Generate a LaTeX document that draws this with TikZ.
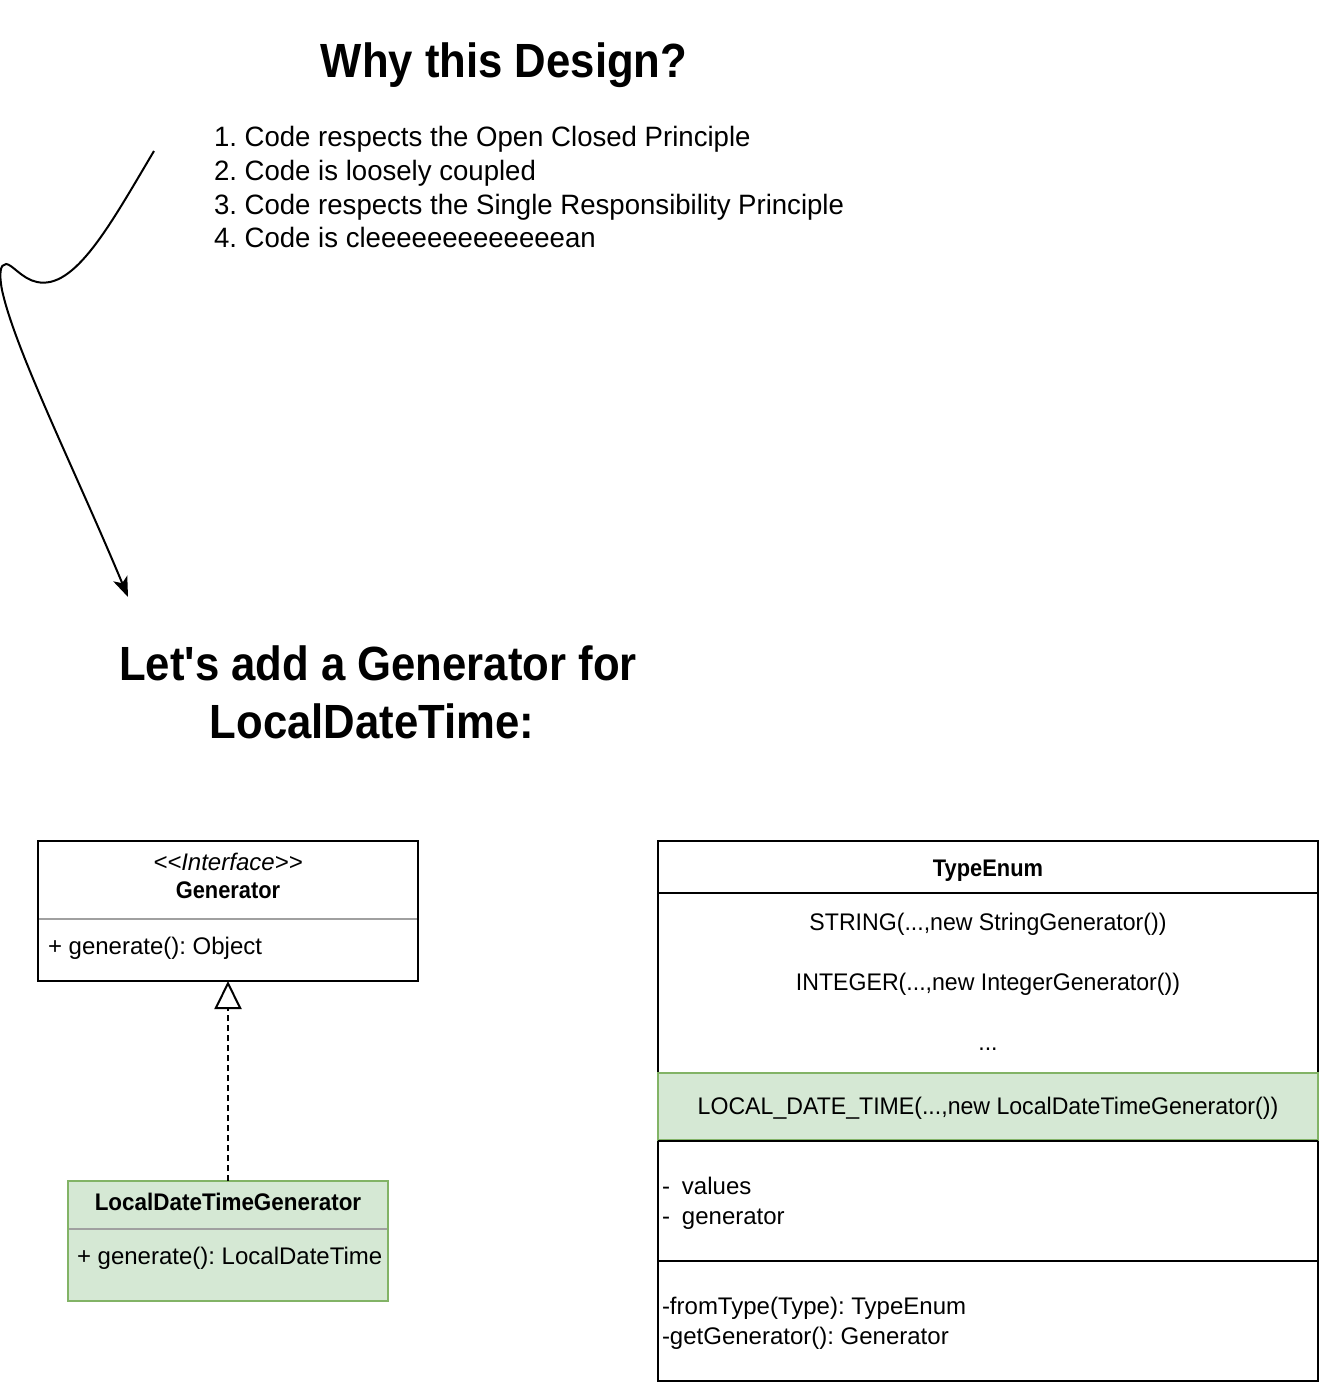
\documentclass[tikz,border=0pt]{standalone}
\usepackage{fontspec}
\setmainfont{Liberation Sans}[Ligatures=TeXOff]
\newfontfamily\cb{Liberation Sans}[FakeStretch=0.91,Ligatures=TeXOff]
\newfontfamily\cbb{Liberation Sans}[FakeStretch=0.935,Ligatures=TeXOff]
\newfontfamily\cnr{Liberation Sans}[FakeStretch=0.963,Ligatures=TeXOff]
\newfontfamily\clist{Liberation Sans}[FakeStretch=0.985,Ligatures=TeXOff]
\usetikzlibrary{arrows.meta}
\definecolor{gfill}{HTML}{D5E8D4}
\definecolor{gstroke}{HTML}{82B366}
\definecolor{divgray}{HTML}{A0A0A0}
\frenchspacing
\begin{document}
\frenchspacing
\begin{tikzpicture}[x=1pt,y=-1pt,line width=2pt,
  box/.style={draw,line width=2pt,inner sep=0pt,outer sep=0pt,anchor=north west},
  txt/.style={inner sep=0pt,anchor=base,font=\fontsize{24}{28.8}\selectfont},
  txtl/.style={txt,anchor=base west},
  enumtxt/.style={inner sep=0pt,anchor=base,font=\cnr\fontsize{24}{28.8}\selectfont},
  hdr/.style={inner sep=0pt,anchor=base,font=\cb\bfseries\fontsize{24}{28.8}\selectfont},
  bigtitle/.style={inner sep=0pt,anchor=base,font=\cb\bfseries\fontsize{48}{57.6}\selectfont},
  listline/.style={inner sep=0pt,anchor=base west,font=\clist\fontsize{28}{33.6}\selectfont}]
\useasboundingbox (0,0) rectangle (1320,1382);

% titles and list
\node[bigtitle] (t1) at (504,77) {Why this Design?};
\node[listline] (l1) at (213,146) {1. Code respects the Open Closed Principle};
\node[listline] (l2) at (213,180) {2. Code is loosely coupled};
\node[listline] (l3) at (213,214) {3. Code respects the Single Responsibility Principle};
\node[listline] (l4) at (213,247) {4. Code is cleeeeeeeeeeeeean};
\node[bigtitle] (t2a) at (378,680) {Let's add a Generator for};
\node[bigtitle] (t2b) at (372,738) {LocalDateTime:};

% curved arrow
\coordinate (cs) at (154,151);
\coordinate (ce) at (128,597);
\draw[-{Stealth[length=20pt,width=15pt,inset=5pt]}] (cs)
  .. controls (110,225) and (75,290) .. (37,282)
  .. controls (22,279) and (12,264) .. (6,264)
  .. controls (0,264) and (-1,274) .. (2,290)
  .. controls (15,350) and (75,470) .. (ce);

% Generator interface
\node[box,minimum width=380pt,minimum height=140pt] (gen) at (38,841) {};
\draw[divgray] (39,919) -- (417,919);
\node[txt,font=\itshape\fontsize{24}{28.8}\selectfont] (genst) at (228,870) {<<Interface>>};
\node[hdr] (genname) at (228,898) {Generator};
\node[txtl] (genop) at (47,954) {+ generate(): Object};

% LocalDateTimeGenerator
\node[box,fill=gfill,draw=gstroke,minimum width=320pt,minimum height=120pt] (ldt) at (68,1181) {};
\draw[divgray] (69,1229) -- (387,1229);
\node[hdr,font=\cbb\bfseries\fontsize{24}{28.8}\selectfont] (ldtname) at (228,1210) {LocalDateTimeGenerator};
\node[txtl] (ldtop) at (76,1264) {+ generate(): LocalDateTime};

% realization
\draw[dash pattern=on 6pt off 4pt,-{Triangle[open,length=28pt,width=27pt,line width=2pt]}] (ldt.north) -- (gen.south);

% TypeEnum
\node[box,minimum width=660pt,minimum height=540pt] (te) at (658,841) {};
\draw (658,893) -- (1318,893);
\node[hdr] (tename) at (988,876) {TypeEnum};
\node[enumtxt] (e1) at (988,930) {STRING(...,new StringGenerator())};
\node[enumtxt] (e2) at (988,990) {INTEGER(...,new IntegerGenerator())};
\node[enumtxt] (e3) at (988,1050) {...};
\node[box,fill=gfill,draw=gstroke,minimum width=660pt,minimum height=67pt] (row) at (658,1073) {};
\node[enumtxt] (e4) at (988,1114) {LOCAL\_DATE\_TIME(...,new LocalDateTimeGenerator())};
\draw (658,1141) -- (1318,1141);
\node[txtl] (f1) at (661,1194) {-\hspace{12pt}values};
\node[txtl] (f2) at (661,1224) {-\hspace{12pt}generator};
\draw (658,1261) -- (1318,1261);
\node[txtl] (m1) at (661,1314) {-fromType(Type): TypeEnum};
\node[txtl] (m2) at (661,1344) {-getGenerator(): Generator};
\end{tikzpicture}
\end{document}
